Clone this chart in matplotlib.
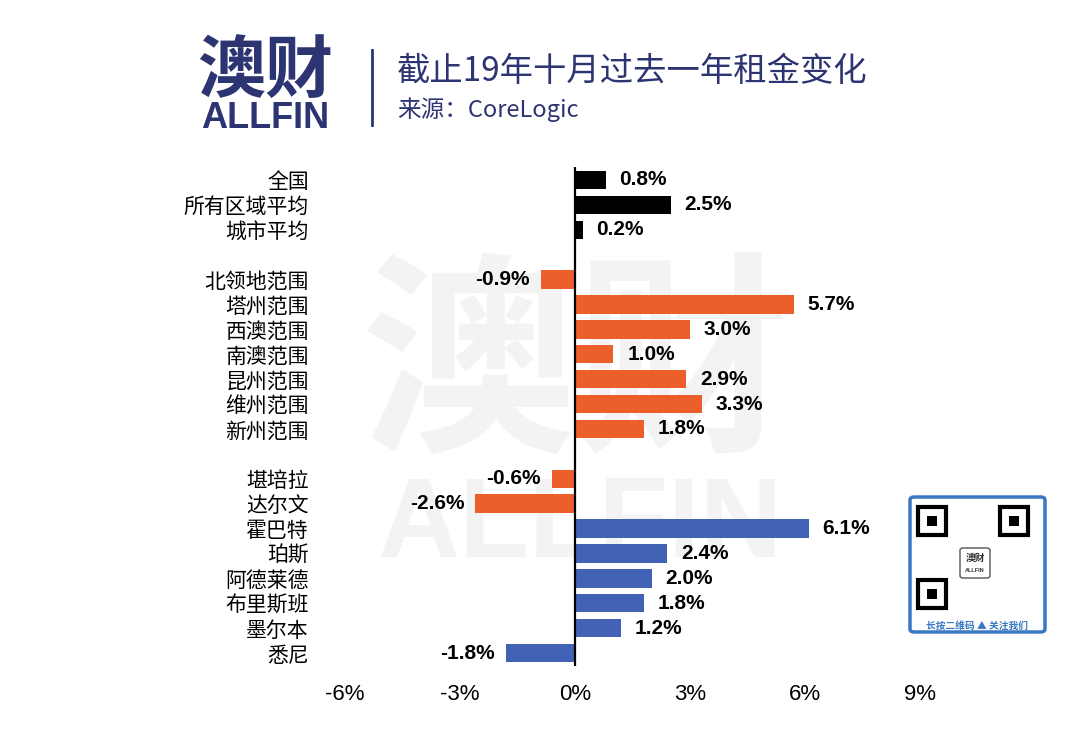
import matplotlib
matplotlib.use('Agg')
import matplotlib.pyplot as plt
from matplotlib.patches import FancyBboxPatch, Rectangle

plt.rcParams['font.family'] = ['Noto Sans CJK SC', 'DejaVu Sans']

# ---------------- data ----------------
group1_labels = ['全国', '所有区域平均', '城市平均']
group1_values = [0.8, 2.5, 0.2]
group2_labels = ['北领地范围', '塔州范围', '西澳范围', '南澳范围', '昆州范围', '维州范围', '新州范围']
group2_values = [-0.9, 5.7, 3.0, 1.0, 2.9, 3.3, 1.8]
group3_labels = ['堪培拉', '达尔文', '霍巴特', '珀斯', '阿德莱德', '布里斯班', '墨尔本', '悉尼']
group3_values = [-0.6, -2.6, 6.1, 2.4, 2.0, 1.8, 1.2, -1.8]
group3_colors = ['orange', 'orange', 'blue', 'blue', 'blue', 'blue', 'blue', 'blue']
xticks = [-6, -3, 0, 3, 6, 9]
xtick_labels = ['-6%', '-3%', '0%', '3%', '6%', '9%']
title = '截止19年十月过去一年租金变化'
source = '来源：CoreLogic'

palette = {'black': '#000000', 'orange': '#EC5F2B', 'blue': '#4262B6'}
navy = '#2D3472'

# assemble rows (with a blank slot between groups)
labels, values, colors, pos = [], [], [], []
slot = 0
for g_labels, g_values, g_colors in [
        (group1_labels, group1_values, ['black'] * len(group1_values)),
        (group2_labels, group2_values, ['orange'] * len(group2_values)),
        (group3_labels, group3_values, group3_colors)]:
    for l, v, c in zip(g_labels, g_values, g_colors):
        labels.append(l); values.append(v); colors.append(palette[c]); pos.append(slot)
        slot += 1
    slot += 1

W, H = 1067, 733
fig = plt.figure(figsize=(W / 100, H / 100), dpi=100)

# ---------------- watermark ----------------
fig.text(576 / W, 1 - 372 / H, '澳财', fontsize=155, fontweight='bold', color='#F3F3F3',
         ha='center', va='center', zorder=-2)
fig.text(580 / W, 1 - 528 / H, 'ALLFIN', fontsize=82, fontweight='bold', color='#F3F3F3',
         ha='center', va='center', zorder=-2, family=['Liberation Sans'])

# ---------------- main axes ----------------
ax = fig.add_axes([345 / W, 1 - 665.5 / H, 575 / W, 498 / H])
ax.patch.set_alpha(0)
ax.barh(pos, values, height=0.74, color=colors, zorder=2)
ax.axvline(0, color='black', lw=1.6, zorder=3)
ax.set_xlim(-6, 9)
ax.set_ylim(19.5, -0.5)
ax.set_yticks(pos)
ax.set_yticklabels(labels, fontsize=15)
ax.set_xticks(xticks)
ax.set_xticklabels(xtick_labels, fontsize=16, family=['Liberation Sans'])
ax.tick_params(axis='y', length=0, pad=26)
ax.tick_params(axis='x', length=0, pad=13)
for s in ax.spines.values():
    s.set_visible(False)

for p, v in zip(pos, values):
    if v >= 0:
        ax.annotate(f'{v:.1f}%', (v, p), xytext=(10, 0), textcoords='offset points',
                    ha='left', va='center', fontsize=15, fontweight='bold',
                    family=['Liberation Sans'], zorder=4)
    else:
        ax.annotate(f'{v:.1f}%', (v, p), xytext=(-8, 0), textcoords='offset points',
                    ha='right', va='center', fontsize=15, fontweight='bold',
                    family=['Liberation Sans'], zorder=4)

# ---------------- header ----------------
fig.text(265 / W, 1 - 72 / H, '澳财', fontsize=49, fontweight='bold', color=navy,
         ha='center', va='center')
fig.text(265 / W, 1 - 119 / H, 'ALLFIN', fontsize=26, fontweight='bold', color=navy,
         ha='center', va='center', family=['Liberation Sans'])
fig.add_artist(plt.Line2D([372 / W, 372 / W], [1 - 50 / H, 1 - 125 / H], color=navy, lw=2))
fig.text(397 / W, 1 - 72 / H, title, fontsize=24, color=navy, ha='left', va='center')
fig.text(397 / W, 1 - 110 / H, source, fontsize=17, color=navy, ha='left', va='center')

# ---------------- QR badge (decorative) ----------------
qr_blue = '#3A78C2'
fig.add_artist(FancyBboxPatch((910 / W, 1 - 632 / H), 135 / W, 135 / H,
                              boxstyle='round,pad=0,rounding_size=0.004',
                              fill=False, ec=qr_blue, lw=2.5, transform=fig.transFigure))
for (fx, fy) in [(918, 507), (1000, 507), (918, 580)]:
    fig.add_artist(Rectangle((fx / W, 1 - (fy + 28) / H), 28 / W, 28 / H, fill=False,
                             ec='black', lw=3, transform=fig.transFigure))
    fig.add_artist(Rectangle(((fx + 9) / W, 1 - (fy + 19) / H), 10 / W, 10 / H,
                             fc='black', ec='none', transform=fig.transFigure))
fig.add_artist(FancyBboxPatch((960 / W, 1 - 578 / H), 30 / W, 30 / H,
                              boxstyle='round,pad=0,rounding_size=0.003',
                              fc='white', ec='#555555', lw=1, transform=fig.transFigure))
fig.text(975 / W, 1 - 558 / H, '澳财', fontsize=7, fontweight='bold', color='#333333',
         ha='center', va='center')
fig.text(975 / W, 1 - 570 / H, 'ALLFIN', fontsize=4, fontweight='bold', color='#333333',
         ha='center', va='center', family=['Liberation Sans'])
fig.text(977 / W, 1 - 626 / H, '长按二维码 ▲ 关注我们', fontsize=7, fontweight='bold',
         color=qr_blue, ha='center', va='center',
         family=['Noto Sans CJK SC', 'DejaVu Sans'])

fig.savefig('out.png', dpi=100, facecolor='white')
